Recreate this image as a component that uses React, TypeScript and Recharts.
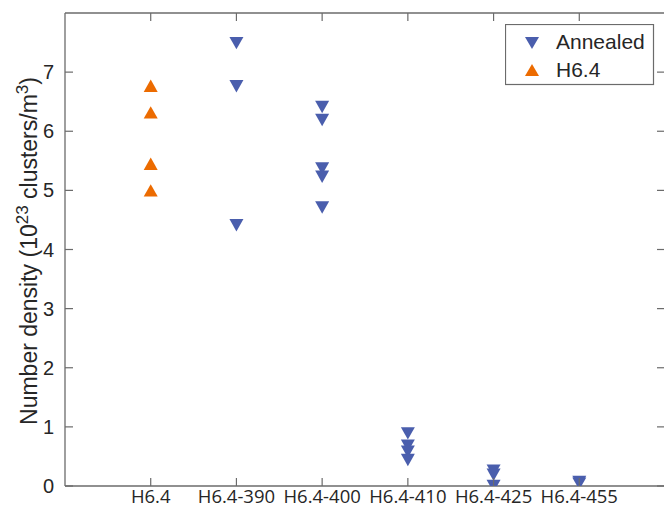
import React from 'react';
import { ScatterChart, Scatter, XAxis, YAxis } from 'recharts';

const categories = ['H6.4', 'H6.4-390', 'H6.4-400', 'H6.4-410', 'H6.4-425', 'H6.4-455'];
const yTicks = [0, 1, 2, 3, 4, 5, 6, 7];

// Annealed samples: category index (1-based) and number density
const annealedCategory = [2, 2, 2, 3, 3, 3, 3, 3, 4, 4, 4, 4, 5, 5, 5, 6, 6];
const annealedValues = [7.49, 6.76, 4.41, 6.41, 6.19, 5.37, 5.23, 4.71, 0.89, 0.68, 0.58, 0.44, 0.26, 0.19, 0.0, 0.07, 0.04];

// As-received H6.4 samples
const h64Category = [1, 1, 1, 1];
const h64Values = [6.77, 6.32, 5.45, 5.0];

const annealedData = annealedCategory.map((c, i) => ({ x: c, y: annealedValues[i] }));
const h64Data = h64Category.map((c, i) => ({ x: c, y: h64Values[i] }));

const BLUE = '#4A5EAD';
const ORANGE = '#EC6B00';
const AXIS = '#6b6b6b';
const TEXT = '#262626';
const TICK = 8;

const DownTri = (props: any) => {
  const { cx, cy } = props;
  if (cx == null || cy == null) return null;
  const w = 7, h = 6.2;
  return <polygon points={`${cx - w},${cy - h} ${cx + w},${cy - h} ${cx},${cy + h}`} fill={BLUE} />;
};
const UpTri = (props: any) => {
  const { cx, cy } = props;
  if (cx == null || cy == null) return null;
  const w = 7, h = 6.2;
  return <polygon points={`${cx - w},${cy + h} ${cx + w},${cy + h} ${cx},${cy - h}`} fill={ORANGE} />;
};

const BottomTick = (props: any) => {
  const { x, y, payload } = props;
  const label = categories[payload.value - 1] ?? '';
  return (
    <g>
      <line x1={x} y1={y} x2={x} y2={y - TICK} stroke={AXIS} strokeWidth={1.2} />
      <text x={x} y={y + 17} textAnchor="middle" fontFamily="'Open Sans', sans-serif" fontSize={18.5} fill={TEXT}>
        {label}
      </text>
    </g>
  );
};
const TopTick = (props: any) => {
  const { x, y } = props;
  return <line x1={x} y1={y} x2={x} y2={y + TICK} stroke={AXIS} strokeWidth={1.2} />;
};
const LeftTick = (props: any) => {
  const { x, y, payload } = props;
  return (
    <g>
      <line x1={x} y1={y} x2={x + TICK} y2={y} stroke={AXIS} strokeWidth={1.2} />
      <text x={x - 11} y={y + 7} textAnchor="end" fontFamily="'Liberation Sans', Arial, sans-serif" fontSize={20} fill={TEXT}>
        {payload.value}
      </text>
    </g>
  );
};
const RightTick = (props: any) => {
  const { x, y } = props;
  return <line x1={x} y1={y} x2={x - TICK} y2={y} stroke={AXIS} strokeWidth={1.2} />;
};

const YLabel = () => {
  const cx = 37;
  const cy = 251;
  return (
    <text
      x={cx}
      y={cy}
      transform={`rotate(-90, ${cx}, ${cy})`}
      textAnchor="middle"
      fontFamily="'Liberation Sans', Arial, sans-serif"
      fontSize={23}
      fill={TEXT}
    >
      <tspan>Number density (10</tspan>
      <tspan fontSize={17} dy={-9}>23</tspan>
      <tspan dy={9}> clusters/m</tspan>
      <tspan fontSize={17} dy={-9}>3</tspan>
      <tspan dy={9}>)</tspan>
    </text>
  );
};

const LegendBox = () => (
  <svg width={150} height={62} style={{ display: 'block' }}>
    <rect x={0.5} y={0.5} width={148} height={60} fill="#fff" stroke={AXIS} strokeWidth={1.2} />
    <polygon points="20,13 34,13 27,25" fill={BLUE} />
    <text x={51} y={25} fontFamily="'Liberation Sans', Arial, sans-serif" fontSize={21} fill={TEXT}>Annealed</text>
    <polygon points="20,52 34,52 27,40" fill={ORANGE} />
    <text x={51} y={53} fontFamily="'Liberation Sans', Arial, sans-serif" fontSize={21} fill={TEXT}>H6.4</text>
  </svg>
);

const axisLine = { stroke: AXIS, strokeWidth: 1.3 };

export default function App() {
  return (
    <div style={{ position: 'absolute', left: 0, top: 0, width: 664, height: 507, overflow: 'hidden', background: '#fff' }}>
      <ScatterChart width={667} height={507} margin={{ top: 12, right: 1, bottom: 20, left: 64 }}>
        <XAxis
          xAxisId="b"
          dataKey="x"
          type="number"
          domain={[0, 7]}
          ticks={[1, 2, 3, 4, 5, 6]}
          interval={0}
          height={1}
          tickSize={0}
          tickMargin={0}
          tickLine={false}
          axisLine={axisLine}
          tick={<BottomTick />}
          allowDataOverflow
        />
        <XAxis
          xAxisId="t"
          orientation="top"
          dataKey="x"
          type="number"
          domain={[0, 7]}
          ticks={[1, 2, 3, 4, 5, 6]}
          interval={0}
          height={1}
          tickSize={0}
          tickMargin={0}
          tickLine={false}
          axisLine={axisLine}
          tick={<TopTick />}
          allowDataOverflow
        />
        <YAxis
          yAxisId="l"
          dataKey="y"
          type="number"
          domain={[0, 8]}
          ticks={yTicks}
          interval={0}
          width={1}
          tickSize={0}
          tickMargin={0}
          tickLine={false}
          axisLine={axisLine}
          tick={<LeftTick />}
          allowDataOverflow
          label={{ content: () => <YLabel /> }}
        />
        <YAxis
          yAxisId="r"
          orientation="right"
          dataKey="y"
          type="number"
          domain={[0, 8]}
          ticks={yTicks}
          interval={0}
          width={1}
          tickSize={0}
          tickMargin={0}
          tickLine={false}
          axisLine={axisLine}
          tick={<RightTick />}
          allowDataOverflow
        />
        <Scatter name="Annealed" data={annealedData} xAxisId="b" yAxisId="l" shape={<DownTri />} isAnimationActive={false} />
        <Scatter name="H6.4" data={h64Data} xAxisId="b" yAxisId="l" shape={<UpTri />} isAnimationActive={false} />
      </ScatterChart>
      <div style={{ position: 'absolute', left: 505, top: 24 }}>
        <LegendBox />
      </div>
    </div>
  );
}
